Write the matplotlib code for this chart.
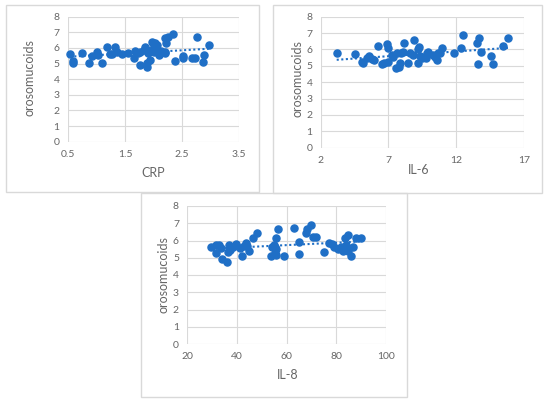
import numpy as np
import matplotlib
matplotlib.use("Agg")
import matplotlib.pyplot as plt
from matplotlib.patches import Rectangle

plt.rcParams['font.family'] = ['Lato', 'DejaVu Sans']

# ---- data ----
crp_x = [0.53, 0.58, 0.59, 0.75, 0.87, 0.92, 1.01, 1.03, 1.10, 1.19, 1.23, 1.28,
         1.33, 1.36, 1.45, 1.55, 1.65, 1.68, 1.72, 1.76, 1.77, 1.85, 1.83, 1.89,
         1.89, 1.94, 1.90, 1.96, 1.99, 2.02, 2.00, 2.05, 2.10, 2.14, 2.20, 2.20,
         2.22, 2.21, 2.25, 2.34, 2.37, 2.52, 2.52, 2.68, 2.72, 2.77, 2.87, 2.88,
         2.97, 2.12, 2.06, 1.97]
crp_y = [5.59, 5.18, 5.05, 5.65, 5.05, 5.48, 5.76, 5.57, 5.05, 6.08, 5.59, 5.59,
         6.08, 5.76, 5.59, 5.69, 5.37, 5.82, 5.65, 4.88, 5.76, 6.08, 5.90, 5.01,
         4.78, 5.22, 5.65, 5.86, 6.29, 6.33, 5.76, 6.08, 5.54, 5.82, 5.76, 6.61,
         6.29, 5.65, 6.72, 6.87, 5.16, 5.33, 5.48, 5.33, 5.33, 6.67, 5.12, 5.54,
         6.18, 5.70, 6.20, 6.40]

il6_x = [3.18, 4.53, 5.07, 5.15, 5.39, 5.59, 5.76, 5.93, 6.20, 6.50, 6.67, 6.87,
         6.94, 6.99, 7.24, 7.36, 7.61, 7.56, 7.78, 7.85, 7.93, 8.10, 8.17, 8.47,
         8.59, 8.84, 8.91, 9.20, 9.28, 9.33, 9.45, 9.82, 9.77, 10.31, 10.43, 10.61,
         10.68, 10.80, 10.93, 11.84, 12.33, 12.52, 13.56, 13.70, 13.63, 13.83,
         14.54, 14.74, 15.43, 15.84, 9.20, 9.95]
il6_y = [5.76, 5.70, 5.25, 5.15, 5.46, 5.60, 5.40, 5.36, 6.21, 5.09, 5.15, 6.31,
         6.11, 5.25, 5.66, 5.56, 5.76, 4.85, 4.95, 5.19, 5.76, 5.87, 6.37, 5.19,
         5.76, 5.66, 6.58, 5.15, 6.17, 5.60, 5.46, 5.80, 5.46, 5.66, 5.56, 5.36,
         5.80, 5.76, 6.07, 5.80, 6.07, 6.88, 6.42, 6.68, 5.09, 5.87, 5.60, 5.09,
         6.21, 6.68, 6.05, 5.87]

il8_x = [29.7, 31.7, 31.4, 32.8, 33.4, 33.8, 35.9, 36.8, 37.1, 36.5, 38.2, 39.8,
         41.2, 41.9, 42.9, 43.5, 44.2, 44.9, 46.5, 48.0, 54.0, 53.9, 55.0, 55.6,
         55.4, 55.9, 56.7, 59.0, 63.0, 65.0, 65.0, 67.7, 68.1, 70.0, 70.7, 71.8,
         74.9, 77.1, 78.2, 79.2, 80.5, 82.5, 83.6, 84.9, 83.9, 84.5, 85.9, 86.6,
         87.9, 89.9, 81.8, 55.3, 55.9]
il8_y = [5.64, 5.74, 5.29, 5.74, 5.55, 4.91, 4.77, 5.74, 5.45, 5.35, 5.64, 5.80,
         5.55, 5.12, 5.68, 5.87, 5.68, 5.41, 6.13, 6.42, 5.64, 5.12, 5.74, 5.49,
         5.26, 6.13, 6.65, 5.12, 6.71, 5.89, 5.22, 6.42, 6.65, 6.90, 6.22, 6.22,
         5.31, 5.84, 5.80, 5.60, 5.49, 5.41, 6.13, 6.32, 5.74, 5.41, 5.12, 5.64,
         6.13, 6.13, 5.64, 5.60, 5.16]

crp_ticks = [0.5, 1.5, 2.5, 3.5]
il6_ticks = [2, 7, 12, 17]
il8_ticks = [20, 40, 60, 80, 100]
y_ticks = [0, 1, 2, 3, 4, 5, 6, 7, 8]

BLUE = '#1f6fc6'
GRID = '#d9d9d9'
TEXT = '#666666'
W, H = 550, 403

fig = plt.figure(figsize=(W / 100, H / 100), dpi=100)


def px_rect(x0, y0, x1, y1):
    # pixel box (top-left origin) -> figure fraction [l, b, w, h]
    return [x0 / W, 1 - y1 / H, (x1 - x0) / W, (y1 - y0) / H]


def panel(box, axbox, xs, ys, ticks, xlabel, xlab_pos, ylab_pos):
    fig.patches.append(Rectangle((box[0] / W, 1 - box[3] / H),
                                 (box[2] - box[0]) / W, (box[3] - box[1]) / H,
                                 transform=fig.transFigure, fill=False,
                                 edgecolor=GRID, lw=1.0))
    ax = fig.add_axes(px_rect(*axbox))
    ax.set_xlim(ticks[0], ticks[-1])
    ax.set_ylim(0, 8)
    ax.set_xticks(ticks)
    ax.set_xticklabels([f"{t:g}" for t in ticks])
    ax.set_yticks(y_ticks)
    ax.grid(True, color=GRID, lw=0.8)
    ax.set_axisbelow(True)
    for s in ax.spines.values():
        s.set_visible(False)
    ax.tick_params(length=0, labelsize=7.5, colors=TEXT, pad=6)
    # linear trend line, as Excel adds it
    k, b = np.polyfit(xs, ys, 1)
    tx = np.array([min(xs), max(xs)])
    ax.plot(tx, k * tx + b, color=BLUE, lw=1.5, linestyle=(0, (1, 1.2)),
            zorder=2)
    ax.scatter(xs, ys, s=26, color=BLUE, zorder=3, clip_on=False)
    fig.text(xlab_pos[0] / W, 1 - xlab_pos[1] / H, xlabel, color=TEXT,
             fontsize=9, ha='center', va='center')
    fig.text(ylab_pos[0] / W, 1 - ylab_pos[1] / H, 'orosomucoids', color=TEXT,
             fontsize=9, ha='center', va='center', rotation=90)
    return ax


panel((6, 5, 259, 192), (68, 16.7, 239, 141.7), crp_x, crp_y, crp_ticks,
      'CRP', (153, 173), (30, 78))
panel((273, 5, 542, 193), (320.7, 16.7, 524, 147.7), il6_x, il6_y, il6_ticks,
      'IL-6', (419, 170), (297, 79))
panel((141, 193, 407, 397), (187.3, 206, 386, 344), il8_x, il8_y, il8_ticks,
      'IL-8', (288, 375), (164, 275))

fig.savefig('out.png', dpi=100)
